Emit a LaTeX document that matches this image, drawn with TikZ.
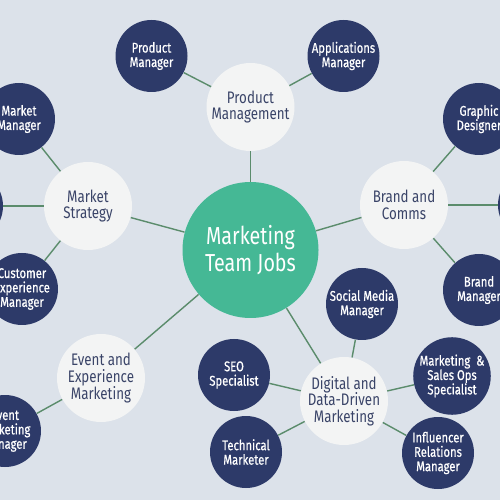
\documentclass[tikz,border=0pt]{standalone}
\usepackage{fontspec}
\setmainfont{Fira Sans}[FakeStretch=0.8]
\newfontfamily\rolefont{Fira Sans}[FakeStretch=0.8,FakeBold=0.6]
\usetikzlibrary{positioning}

\definecolor{bgblue}{HTML}{DCE2EA}
\definecolor{jobgreen}{HTML}{45B895}
\definecolor{teamwhite}{HTML}{F3F4F4}
\definecolor{teamtext}{HTML}{3A4468}
\definecolor{rolenavy}{HTML}{2D3A69}
\definecolor{linkgreen}{HTML}{5B8C6C}

\begin{document}
\begin{tikzpicture}[on grid,
  hub/.style={circle, fill=jobgreen, text=white, minimum size=2.72cm, inner sep=0pt, align=center, font=\fontsize{14}{15}\selectfont},
  team/.style={circle, fill=teamwhite, text=teamtext, minimum size=1.76cm, inner sep=0pt, align=center, font=\fontsize{9.5}{9.5}\selectfont},
  role/.style={circle, fill=rolenavy, text=white, minimum size=1.44cm, inner sep=0pt, align=center, font=\rolefont\fontsize{8}{8.2}\selectfont},
  link/.style={draw=linkgreen, line width=0.8pt}]

\path[use as bounding box, fill=bgblue] (-5.01,-5.0) rectangle (4.99,5.0);

 % Nodes

\node[hub] (jobs) {Marketing\\Team Jobs};

\node[team, above=2.86cm of jobs] (prodmgmt) {Product\\Management};
\node[team, above left=0.88cm and 3.25cm of jobs] (strategy) {Market\\Strategy};
\node[team, above right=0.9cm and 3.07cm of jobs] (brand) {Brand and\\Comms};
\node[team, below left=2.56cm and 2.99cm of jobs] (event) {Event and\\Experience\\Marketing};
\node[team, below right=3.02cm and 1.87cm of jobs] (digital) {Digital and\\Data-Driven\\Marketing};

\node[role, above left=1.02cm and 1.98cm of prodmgmt] (prodmgr) {Product\\Manager};
\node[role, above right=1.02cm and 1.86cm of prodmgmt] (appmgr) {Applications\\Manager};

\node[role, above left=1.74cm and 1.38cm of strategy] (mktmgr) {Market\\Manager};
\node[role, left=2.42cm of strategy] (leftmgr) {};
\node[role, below left=1.66cm and 1.32cm of strategy] (cxmgr) {Customer\\Experience\\Manager};

\node[role, above right=1.72cm and 1.5cm of brand] (graphic) {Graphic\\Designer};
\node[role, right=2.6cm of brand] (rightmgr) {};
\node[role, below right=1.7cm and 1.5cm of brand] (brandmgr) {Brand\\Manager};

\node[role, below left=1.06cm and 1.92cm of event] (eventmgr) {Event\\Marketing\\Manager};

\node[role, above right=1.94cm and 0.36cm of digital] (social) {Social Media\\Manager};
\node[role, above left=0.52cm and 2.2cm of digital] (seo) {SEO\\Specialist};
\node[role, below left=1.02cm and 1.96cm of digital] (tech) {Technical\\Marketer};
\node[role, above right=0.5cm and 2.16cm of digital] (salesops) {Marketing~~\&\\Sales Ops\\Specialist};
\node[role, below right=1.04cm and 1.88cm of digital] (influencer) {Influencer\\Relations\\Manager};

% Connect nodes
\foreach \t in {prodmgmt, strategy, brand, event, digital}
  \draw[link] (jobs) -- (\t);
\foreach \r in {prodmgr, appmgr}
  \draw[link] (prodmgmt) -- (\r);
\foreach \r in {mktmgr, leftmgr, cxmgr}
  \draw[link] (strategy) -- (\r);
\foreach \r in {graphic, rightmgr, brandmgr}
  \draw[link] (brand) -- (\r);
\draw[link] (event) -- (eventmgr);
\foreach \r in {social, seo, tech, salesops, influencer}
  \draw[link] (digital) -- (\r);

\end{tikzpicture}
\end{document}
